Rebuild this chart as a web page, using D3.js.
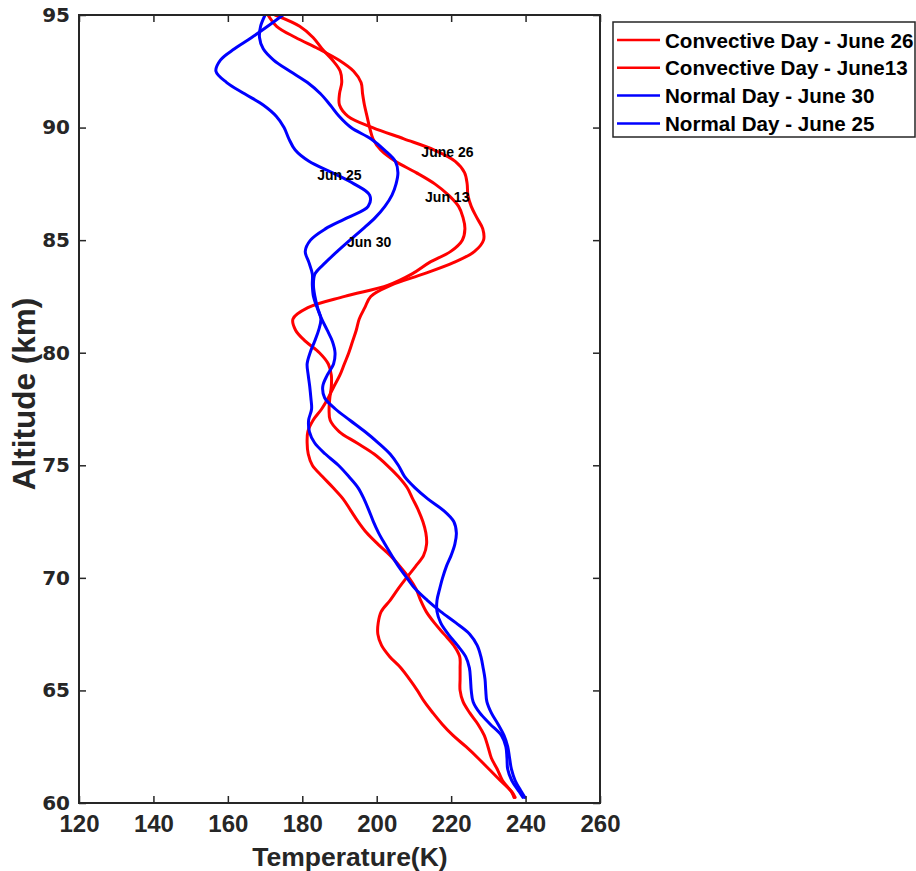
<!DOCTYPE html>
<html>
<head>
<meta charset="utf-8">
<script src="https://cdn.jsdelivr.net/npm/d3@7"></script>
<style>
  html, body { margin: 0; padding: 0; background: #ffffff; }
  svg { display: block; }
</style>
</head>
<body>
<svg id="chart" width="916" height="871"></svg>
<script>
// Altitude levels (km) shared by all four temperature profiles
const altitude = [95, 94.5, 94, 93.5, 93, 92.5, 92, 91.5, 91, 90.5,
  90, 89.5, 89, 88.5, 88, 87.5, 87, 86.5, 86, 85.5,
  85, 84.5, 84, 83.5, 83, 82.5, 82, 81.5, 81, 80.5,
  80, 79.5, 79, 78.5, 78, 77.5, 77, 76.5, 76, 75.5,
  75, 74.5, 74, 73.5, 73, 72.5, 72, 71.5, 71, 70.5,
  70, 69.5, 69, 68.5, 68, 67.5, 67, 66.5, 66, 65.5,
  65, 64.5, 64, 63.5, 63, 62.5, 62, 61.5, 61, 60.5, 60.25];

// Temperature (K) at each altitude level
const tempJune26 = [172.7, 179.3, 182.9, 185.3, 188.1, 190.2, 190.6, 190.0, 190.0, 192.3,
  198.9, 207.3, 215.5, 221.1, 223.6, 224.3, 224.5, 225.4, 226.9, 228.5,
  228.7, 226.3, 220.6, 212.6, 203.9, 198.4, 196.8, 195.3, 194.5, 193.5,
  192.5, 191.3, 190.1, 188.5, 187.0, 185.2, 182.9, 181.5, 181.3, 181.6,
  182.7, 185.4, 188.3, 191.0, 193.0, 195.0, 197.3, 200.3, 203.6, 206.3,
  208.7, 210.6, 211.8, 213.3, 215.5, 218.1, 220.7, 222.3, 222.4, 222.4,
  222.4, 223.2, 225.0, 227.2, 228.9, 229.9, 230.8, 232.4, 233.8, 236.2, 236.9];

const tempJune13 = [170.8, 173.1, 178.2, 184.3, 189.8, 193.8, 195.8, 196.2, 196.7, 197.4,
  198.1, 199.0, 201.1, 205.0, 210.6, 215.6, 219.3, 222.0, 223.2, 223.7,
  223.0, 219.9, 214.1, 209.5, 203.1, 191.4, 181.5, 177.5, 178.2, 180.9,
  184.6, 187.0, 187.8, 187.8, 187.4, 187.2, 187.5, 189.9, 194.6, 199.3,
  202.8, 205.8, 208.2, 209.7, 211.2, 212.4, 213.2, 213.4, 212.6, 210.4,
  208.0, 205.7, 203.6, 201.2, 200.4, 200.3, 201.3, 203.5, 206.5, 208.8,
  210.9, 212.8, 215.1, 217.6, 220.5, 224.0, 227.2, 230.2, 233.2, 236.3, 237.2];

const tempJune30 = [170.0, 168.8, 168.5, 169.5, 172.3, 176.7, 181.4, 184.9, 187.5, 189.9,
  193.1, 198.4, 202.1, 205.0, 205.7, 205.2, 204.1, 202.2, 199.6, 196.3,
  192.8, 189.4, 186.2, 183.4, 183.0, 183.4, 184.1, 185.0, 184.4, 183.3,
  182.1, 181.3, 181.6, 182.0, 182.3, 182.5, 181.7, 181.9, 183.3, 186.2,
  189.7, 192.5, 195.0, 196.6, 197.9, 199.1, 200.5, 202.2, 204.0, 205.9,
  208.1, 210.4, 213.6, 217.2, 221.3, 225.0, 227.0, 228.0, 228.6, 229.1,
  229.3, 229.6, 230.8, 232.6, 234.2, 235.2, 235.7, 236.2, 237.2, 238.9, 239.8];

const tempJune25 = [174.8, 170.7, 166.4, 161.8, 158.0, 156.8, 159.7, 164.5, 169.5, 173.0,
  175.1, 176.4, 178.1, 181.8, 188.0, 193.9, 198.1, 197.7, 192.2, 186.2,
  182.2, 180.8, 181.8, 182.7, 182.7, 183.0, 184.0, 185.2, 186.7, 188.1,
  188.8, 188.4, 186.7, 185.5, 186.0, 188.9, 192.8, 196.8, 200.4, 203.6,
  205.8, 207.5, 210.3, 213.8, 217.9, 220.7, 221.4, 221.0, 220.0, 218.7,
  217.7, 216.9, 216.2, 216.2, 217.2, 219.2, 221.7, 223.9, 224.9, 225.2,
  225.4, 225.9, 227.7, 230.5, 233.5, 234.7, 235.0, 235.2, 236.3, 238.3, 239.3];

const seriesNames = ["Convective Day - June 26", "Convective Day - June13",
                     "Normal Day - June 30", "Normal Day - June 25"];
const seriesColors = ["#ff0000", "#ff0000", "#0000ff", "#0000ff"];

const xTicks = [120, 140, 160, 180, 200, 220, 240, 260];
const yTicks = [60, 65, 70, 75, 80, 85, 90, 95];

// In-plot labels naming each profile (temperature K, altitude km)
const noteText = ["June 26", "Jun 13", "Jun 25", "Jun 30"];
const noteTemp = [212, 213, 184, 192];
const noteAlt  = [88.9, 86.9, 87.9, 84.9];

const series = [tempJune26, tempJune13, tempJune30, tempJune25].map((temps, i) => ({
  name: seriesNames[i],
  color: seriesColors[i],
  points: temps.map((t, j) => ({ t: t, alt: altitude[j] }))
}));

const svg = d3.select("#chart");
const plot = { left: 79, top: 15, right: 600, bottom: 803 };
const axisColor = "#262626";

const x = d3.scaleLinear().domain([120, 260]).range([plot.left, plot.right]);
const y = d3.scaleLinear().domain([60, 95]).range([plot.bottom, plot.top]);

svg.append("rect").attr("width", 916).attr("height", 871).attr("fill", "#ffffff");

svg.append("defs").append("clipPath").attr("id", "plotClip")
  .append("rect")
  .attr("x", plot.left).attr("y", plot.top)
  .attr("width", plot.right - plot.left).attr("height", plot.bottom - plot.top);

// Profiles
const line = d3.line()
  .x(d => x(d.t))
  .y(d => y(d.alt))
  .curve(d3.curveCatmullRom.alpha(0.5));

svg.append("g").attr("clip-path", "url(#plotClip)")
  .selectAll("path")
  .data(series)
  .join("path")
  .attr("d", d => line(d.points))
  .attr("fill", "none")
  .attr("stroke", d => d.color)
  .attr("stroke-width", 3)
  .attr("stroke-linejoin", "round")
  .attr("stroke-linecap", "round");

// Profile labels
svg.append("g")
  .selectAll("text")
  .data(noteText)
  .join("text")
  .attr("x", (d, i) => x(noteTemp[i]))
  .attr("y", (d, i) => y(noteAlt[i]))
  .attr("dominant-baseline", "central")
  .attr("font-family", "'Liberation Sans', Arial, sans-serif")
  .attr("font-weight", "bold")
  .attr("font-size", 14)
  .attr("fill", "#000000")
  .text(d => d);

// Axes with inward ticks on all four sides
function styleAxis(g) {
  g.select(".domain").remove();
  g.selectAll(".tick line").attr("stroke", axisColor).attr("stroke-width", 1.5);
}

svg.append("g")
  .attr("transform", `translate(0,${plot.bottom})`)
  .call(d3.axisBottom(x).tickValues(xTicks).tickSizeInner(-7).tickSizeOuter(0).tickPadding(12))
  .call(styleAxis)
  .call(g => g.selectAll(".tick text")
    .attr("font-family", "'Liberation Sans', Arial, sans-serif")
    .attr("font-weight", "bold")
    .attr("font-size", 24)
    .attr("fill", axisColor));

svg.append("g")
  .attr("transform", `translate(0,${plot.top})`)
  .call(d3.axisTop(x).tickValues(xTicks).tickSizeInner(-7).tickSizeOuter(0).tickFormat(""))
  .call(styleAxis);

svg.append("g")
  .attr("transform", `translate(${plot.left},0)`)
  .call(d3.axisLeft(y).tickValues(yTicks).tickSizeInner(-7).tickSizeOuter(0).tickPadding(9))
  .call(styleAxis)
  .call(g => g.selectAll(".tick text")
    .attr("font-family", "'DejaVu Sans', Verdana, sans-serif")
    .attr("font-weight", "bold")
    .attr("font-size", 20)
    .attr("fill", axisColor));

svg.append("g")
  .attr("transform", `translate(${plot.right},0)`)
  .call(d3.axisRight(y).tickValues(yTicks).tickSizeInner(-7).tickSizeOuter(0).tickFormat(""))
  .call(styleAxis);

// Axes box
svg.append("rect")
  .attr("x", plot.left).attr("y", plot.top)
  .attr("width", plot.right - plot.left).attr("height", plot.bottom - plot.top)
  .attr("fill", "none")
  .attr("stroke", axisColor)
  .attr("stroke-width", 2);

// Axis titles
svg.append("text")
  .attr("x", 350)
  .attr("y", 866)
  .attr("text-anchor", "middle")
  .attr("font-family", "'Liberation Sans', Arial, sans-serif")
  .attr("font-weight", "bold")
  .attr("font-size", 26.5)
  .attr("fill", axisColor)
  .text("Temperature(K)");

svg.append("text")
  .attr("transform", "translate(35,394) rotate(-90)")
  .attr("text-anchor", "middle")
  .attr("font-family", "'Liberation Sans', Arial, sans-serif")
  .attr("font-weight", "bold")
  .attr("font-size", 31.5)
  .attr("fill", axisColor)
  .text("Altitude (km)");

// Legend
const legend = svg.append("g");
legend.append("rect")
  .attr("x", 613).attr("y", 22)
  .attr("width", 302).attr("height", 115)
  .attr("fill", "#ffffff")
  .attr("stroke", axisColor)
  .attr("stroke-width", 1.5);

const legendRows = legend.selectAll("g.row")
  .data(series)
  .join("g")
  .attr("class", "row")
  .attr("transform", (d, i) => `translate(0,${40 + i * 27.8})`);

legendRows.append("line")
  .attr("x1", 617).attr("x2", 660)
  .attr("y1", 0).attr("y2", 0)
  .attr("stroke", d => d.color)
  .attr("stroke-width", 2.5);

legendRows.append("text")
  .attr("x", 665).attr("y", 0)
  .attr("dominant-baseline", "central")
  .attr("font-family", "'Liberation Sans', Arial, sans-serif")
  .attr("font-weight", "bold")
  .attr("font-size", 20.6)
  .attr("fill", "#000000")
  .text(d => d.name);
</script>
</body>
</html>
